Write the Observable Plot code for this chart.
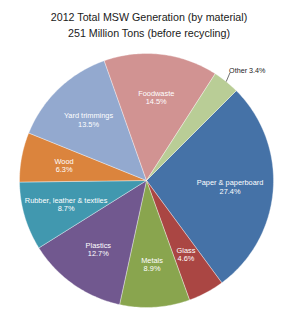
<!DOCTYPE html>
<html>
<head>
<meta charset="utf-8">
<script src="https://cdn.jsdelivr.net/npm/d3@7"></script>
<script src="https://cdn.jsdelivr.net/npm/@observablehq/plot@0.6"></script>
<style>
  html, body { margin: 0; padding: 0; background: #fff; }
  #wrap { width: 300px; height: 316px; overflow: hidden; font-family: "Liberation Sans", Arial, sans-serif; }
  #title { padding-top: 9px; height: 45px; box-sizing: border-box; text-align: center; font-size: 10.7px; line-height: 16px; color: #1a1a1a; }
  #title div { margin-left: -2px; }
  #chart svg { display: block; }
</style>
</head>
<body>
<div id="wrap">
  <div id="title"></div>
  <div id="chart"></div>
</div>
<script>
const titleLines = ["2012 Total MSW Generation (by material)", "251 Million Tons (before recycling)"];
const categories = ["Paper & paperboard", "Glass", "Metals", "Plastics", "Rubber, leather & textiles", "Wood", "Yard trimmings", "Foodwaste", "Other"];
const values = [27.4, 4.6, 8.9, 12.7, 8.7, 6.3, 13.5, 14.5, 3.4];
const colors = ["#4572a7", "#aa4643", "#89a54e", "#71588f", "#4198af", "#db843d", "#93a9cf", "#d19392", "#b9cd96"];

document.getElementById("title").innerHTML = titleLines.map(t => `<div>${t}</div>`).join("");

const rows = categories.map((name, i) => ({name, value: values[i]}));
const start = Math.PI / 4;
const arcs = d3.pie().sort(null).value(d => d.value).startAngle(start).endAngle(start + 2 * Math.PI)(rows);

const polyPts = [];
for (const a of arcs) {
  const n = Math.max(4, Math.ceil((a.endAngle - a.startAngle) * 180 / Math.PI));
  polyPts.push({name: a.data.name, x: 0, y: 0});
  for (let k = 0; k <= n; k++) {
    const t = a.startAngle + (a.endAngle - a.startAngle) * k / n;
    polyPts.push({name: a.data.name, x: Math.sin(t), y: Math.cos(t)});
  }
  polyPts.push({name: a.data.name, x: 0, y: 0});
}

const mid = a => (a.startAngle + a.endAngle) / 2;
const pct = v => v.toFixed(1) + "%";
const inner = arcs.filter(a => a.data.value >= 4).map(a => ({
  label: a.data.name + "\n" + pct(a.data.value),
  x: 0.66 * Math.sin(mid(a)), y: 0.66 * Math.cos(mid(a))
}));
const outer = arcs.filter(a => a.data.value < 4).map(a => ({
  label: a.data.name + " " + pct(a.data.value),
  x1: Math.sin(mid(a)), y1: Math.cos(mid(a)),
  x2: 1.075 * Math.sin(mid(a) - 0.02), y2: 1.075 * Math.cos(mid(a) - 0.02)
}));

const cx = 146, cy = 135, r = 127;
const chart = Plot.plot({
  width: 300,
  height: 271,
  margin: 0,
  x: {domain: [-1, 1], range: [cx - r, cx + r], axis: null},
  y: {domain: [-1, 1], range: [cy + r, cy - r], axis: null},
  color: {domain: categories, range: colors},
  style: {fontFamily: "'Liberation Sans', Arial, sans-serif", background: "white", overflow: "visible"},
  marks: [
    Plot.line(polyPts, {x: "x", y: "y", z: "name", fill: "name", stroke: "white", strokeWidth: 0.6, strokeOpacity: 0.6, curve: "linear"}),
    Plot.text(inner, {x: "x", y: "y", text: "label", fill: "white", fontSize: 7.4, lineHeight: 1.1}),
    Plot.link(outer, {x1: "x1", y1: "y1", x2: "x2", y2: "y2", stroke: "#333", strokeWidth: 0.7}),
    Plot.text(outer, {x: "x2", y: "y2", text: "label", fill: "#222", fontSize: 7.2, textAnchor: "start", dx: -1, dy: -2})
  ]
});
document.getElementById("chart").appendChild(chart);
</script>
</body>
</html>
